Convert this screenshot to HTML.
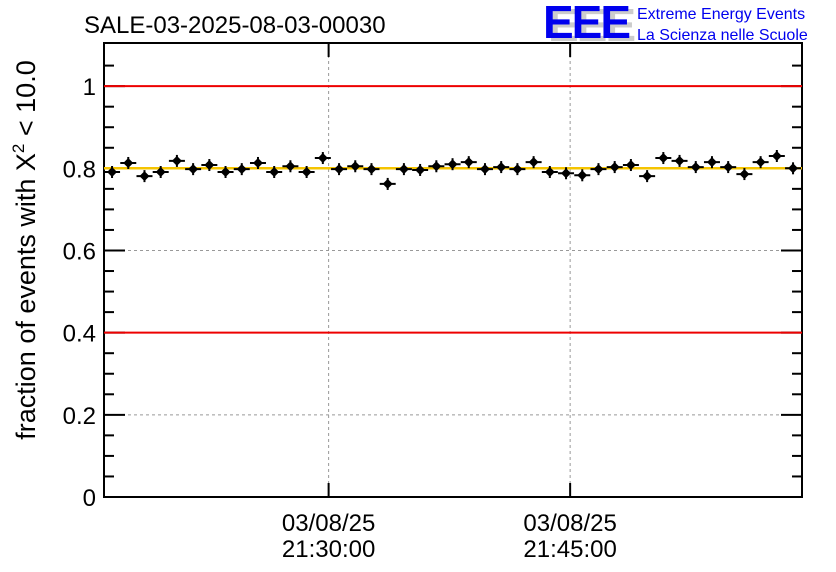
<!DOCTYPE html>
<html><head><meta charset="utf-8"><style>
body{margin:0;background:#fff}
svg{display:block;font-family:"Liberation Sans",sans-serif}
</style></head><body>
<svg id="c" width="836" height="572">
<text x="84" y="33" font-size="24">SALE-03-2025-08-03-00030</text>
<g>
<text x="548" y="41" font-size="46" font-weight="bold" fill="#ccc" letter-spacing="-2">EEE</text>
<text x="543" y="38" font-size="46" font-weight="bold" fill="#0000ee" letter-spacing="-2">EEE</text>
<text x="637" y="19" font-size="16" fill="#0000ee">Extreme Energy Events</text>
<text x="637" y="40" font-size="16" fill="#0000ee">La Scienza nelle Scuole</text>
</g>
<text transform="translate(35,250) rotate(-90)" text-anchor="middle" font-size="27">fraction of events with X<tspan dy="-11" font-size="17">2</tspan><tspan dy="11"> &lt; 10.0</tspan></text>
<g id="grid"></g><g id="axes"></g><g id="marks"></g>
</svg>
<script>
const values=[0.791,0.813,0.781,0.791,0.818,0.798,0.808,0.791,0.798,0.813,0.791,0.805,0.791,0.825,0.798,0.805,0.798,0.762,0.798,0.796,0.805,0.810,0.815,0.798,0.803,0.798,0.815,0.791,0.788,0.783,0.798,0.803,0.808,0.781,0.825,0.818,0.803,0.815,0.803,0.786,0.815,0.830,0.800];
const startMin=-13.45, stepMin=1.007; // minutes relative to 21:30:00
const yTicks=[0,0.2,0.4,0.6,0.8,1];
const yTickLabels=["0","0.2","0.4","0.6","0.8","1"];
const xTicks=[0,15];
const xTickLabels=[["03/08/25","21:30:00"],["03/08/25","21:45:00"]];
const redLines=[0.4,1.0];
const refLine=[0.8];
const L=104,R=802,T=43,B=497;
const xmin=-13.95,xmax=29.4,ymin=0,ymax=1.105;
const X=t=>L+(t-xmin)/(xmax-xmin)*(R-L);
const Y=v=>B-(v-ymin)/(ymax-ymin)*(B-T);
const NS="http://www.w3.org/2000/svg";
function mk(p,tag,a){const e=document.createElementNS(NS,tag);for(const k in a)e.setAttribute(k,a[k]);p.appendChild(e);return e;}
const grid=document.getElementById('grid'),axes=document.getElementById('axes'),marks=document.getElementById('marks');
yTicks.forEach((v,i)=>{if(v>0&&v<1){const g=mk(grid,'line',{x1:L,x2:R,y1:Y(v),y2:Y(v),stroke:'#999','stroke-dasharray':'3,3'});

}
const t=mk(axes,'text',{x:L-8,y:Y(v)+9,'text-anchor':'end','font-size':24});t.textContent=yTickLabels[i];


mk(axes,'line',{x1:L,x2:L+21,y1:Y(v),y2:Y(v),stroke:'#000','stroke-width':2});
mk(axes,'line',{x1:R,x2:R-21,y1:Y(v),y2:Y(v),stroke:'#000','stroke-width':2});});
for(let v=0.05;v<1.1;v+=0.05){if(Math.abs(v*5-Math.round(v*5))<1e-6)continue;
mk(axes,'line',{x1:L,x2:L+10,y1:Y(v),y2:Y(v),stroke:'#000','stroke-width':2});
mk(axes,'line',{x1:R,x2:R-10,y1:Y(v),y2:Y(v),stroke:'#000','stroke-width':2});}
xTicks.forEach((t,i)=>{const x=X(t);
const g=mk(grid,'line',{x1:x,x2:x,y1:T,y2:B,stroke:'#999','stroke-dasharray':'3,3'});


mk(axes,'line',{x1:x,x2:x,y1:B,y2:B-14,stroke:'#000','stroke-width':2});
mk(axes,'line',{x1:x,x2:x,y1:T,y2:T+14,stroke:'#000','stroke-width':2});
xTickLabels[i].forEach((s,j)=>{const e=mk(axes,'text',{x:x,y:531+j*26,'text-anchor':'middle','font-size':24});e.textContent=s;

});});
const fr=mk(axes,'rect',{x:L,y:T,width:R-L,height:B-T,fill:'none',stroke:'#000','stroke-width':2});


redLines.forEach(v=>{const e=mk(marks,'line',{x1:L,x2:R,y1:Y(v),y2:Y(v),stroke:'#e00','stroke-width':2});

});
refLine.forEach(v=>{const e=mk(marks,'line',{x1:L,x2:R,y1:Y(v),y2:Y(v),stroke:'#f5c400','stroke-width':2.5});

});
values.forEach((v,i)=>{const t=startMin+i*stepMin,x=X(t),y=Y(v);
const g=mk(marks,'g',{});


mk(g,'line',{x1:x-8,x2:x+8,y1:y,y2:y,stroke:'#000','stroke-width':2});
mk(g,'line',{x1:x,x2:x,y1:y-6,y2:y+6,stroke:'#000','stroke-width':2});
mk(g,'path',{d:`M${x-5},${y}L${x},${y-5}L${x+5},${y}L${x},${y+5}Z`,fill:'#000'});});
</script>
</body></html>
